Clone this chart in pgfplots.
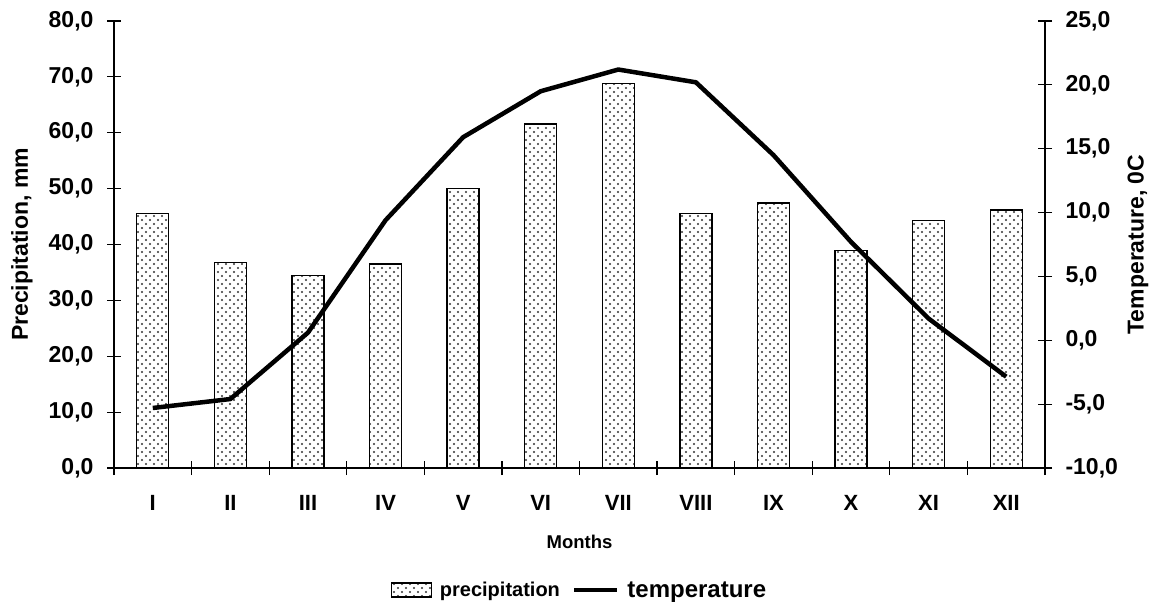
\documentclass[border=0pt]{standalone}
\usepackage{pgfplots}
\pgfplotsset{compat=1.18}
\usepackage{fontspec}
\setmainfont{Liberation Sans}
\usetikzlibrary{patterns}
\pgfdeclarepatternformonly{sparsedots}{\pgfqpoint{-1pt}{-1pt}}{\pgfqpoint{9pt}{9pt}}{\pgfqpoint{8pt}{8pt}}{%
  \pgfpathcircle{\pgfqpoint{2pt}{2pt}}{1.1pt}%
  \pgfpathcircle{\pgfqpoint{6pt}{6pt}}{1.1pt}%
  \pgfusepath{fill}}
\newcommand{\tickfont}{\fontsize{23}{25}\selectfont\bfseries}
\begin{document}
\begin{tikzpicture}
\useasboundingbox (0pt,0pt) rectangle (1155pt,610pt);
\begin{axis}[
  at={(114pt,142pt)}, anchor=south west,
  scale only axis, width=931pt, height=447pt,
  xmin=0.5, xmax=12.5, ymin=0, ymax=80,
  axis y line*=left, axis x line*=bottom,
  axis line style={line width=1.3pt, -},
  xtick={0.5,1.5,...,12.5},
  x tick label as interval,
  xticklabels={I,II,III,IV,V,VI,VII,VIII,IX,X,XI,XII},
  ytick={0,10,...,80},
  yticklabels={{0,0},{10,0},{20,0},{30,0},{40,0},{50,0},{60,0},{70,0},{80,0}},
  tick align=center, major tick length=14pt,
  tick style={line width=1.2pt, black},
  ticklabel style={font=\tickfont},
  xticklabel style={font=\fontsize{22}{24}\selectfont\bfseries, yshift=-17pt},
  yticklabel style={xshift=-10pt},
  xlabel={Months},
  xlabel style={font=\fontsize{18.5}{20}\selectfont\bfseries, at={(axis description cs:0.5,-0.165)}, anchor=center},
  ylabel={Precipitation, mm},
  ylabel style={font=\tickfont, at={(axis description cs:-0.0988,0.5)}, anchor=center},
  clip=false,
]
\addplot[ybar, bar width=32pt, draw=black, line width=1.4pt,
  preaction={fill=white}, pattern=sparsedots, pattern color=black!80]
  coordinates {(1,45.5) (2,36.8) (3,34.4) (4,36.5) (5,50.0) (6,61.6) (7,68.8) (8,45.5) (9,47.4) (10,38.9) (11,44.3) (12,46.2)};
\end{axis}
\begin{axis}[
  at={(114pt,142pt)}, anchor=south west,
  scale only axis, width=931pt, height=447pt,
  xmin=0.5, xmax=12.5, ymin=-10, ymax=25,
  axis y line*=right, axis x line=none,
  axis line style={line width=1.3pt, -},
  ytick={-10,-5,...,25},
  yticklabels={{-10,0},{-5,0},{0,0},{5,0},{10,0},{15,0},{20,0},{25,0}},
  tick align=center, major tick length=14pt,
  tick style={line width=1.2pt, black},
  ticklabel style={font=\tickfont},
  yticklabel style={xshift=10pt},
  ylabel={Temperature, 0C},
  ylabel style={font=\tickfont, at={(axis description cs:1.0999,0.5)}, anchor=center},
  legend style={at={(axis description cs:0.5,-0.273)}, anchor=center, draw=none,
    legend columns=2, /tikz/every even column/.append style={column sep=10pt},
    /tikz/every odd column/.append style={column sep=6pt}},
  clip=false,
]
\addlegendimage{legend image code/.code={\draw[line width=1.1pt, preaction={fill=white}, pattern=sparsedots, pattern color=black!80] (0pt,-7pt) rectangle (40pt,7pt);}}
\addlegendentry{\fontsize{20}{22}\selectfont\bfseries precipitation}
\addplot[black, line width=4.5pt, line join=round, legend image code/.code={\draw[black, line width=4.5pt] (0pt,0pt) -- (43pt,0pt);}]
  coordinates {(1,-5.3) (2,-4.6) (3,0.6) (4,9.4) (5,15.9) (6,19.5) (7,21.2) (8,20.2) (9,14.5) (10,7.7) (11,1.7) (12,-2.85)};
\addlegendentry{\fontsize{24}{26}\selectfont\bfseries temperature}
\end{axis}
\end{tikzpicture}
\end{document}
